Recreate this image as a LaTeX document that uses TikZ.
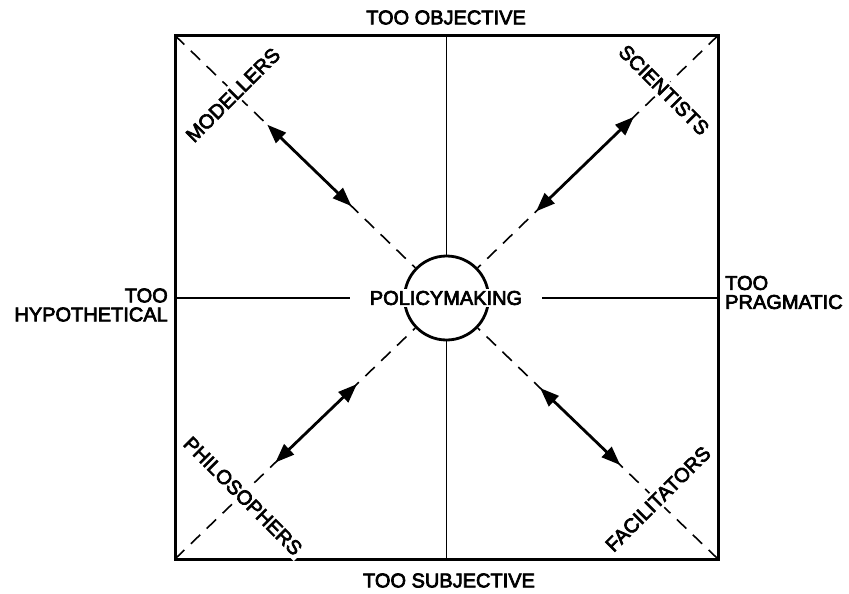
\documentclass[tikz,border=0pt]{standalone}
\usepackage{fontspec}
\setmainfont{Liberation Sans}
\newfontfamily\medfont{Liberation Sans}[FakeBold=3.5]
\usetikzlibrary{arrows.meta,calc}
\begin{document}
\begin{tikzpicture}[x=1pt,y=-1pt,
  lbl/.style={font=\medfont\fontsize{20}{19}\selectfont, inner sep=0pt},
  rolelbl/.style={lbl, fill=white, inner sep=3pt},
  frame/.style={line width=3pt, line join=miter},
  axis/.style={line width=1.4pt},
  diag/.style={line width=1.6pt, dash pattern=on 13pt off 9pt},
  twoway/.style={line width=2.8pt,
    {Triangle[length=19pt,width=14pt]}-{Triangle[length=19pt,width=14pt]}},
  hub/.style={circle, draw, line width=2.8pt, fill=white,
    minimum size=84pt, inner sep=0pt},
  hubtext/.style={lbl, fill=white, inner xsep=20pt, inner ysep=2pt}]
\useasboundingbox (0,0) rectangle (849,594);

% corners and edge midpoints of the square
\coordinate (tl) at (175,35.5);
\coordinate (tr) at (718,35.5);
\coordinate (br) at (718,559);
\coordinate (bl) at (175,559);
\coordinate (tm) at (446.5,35.5);
\coordinate (bm) at (446.5,559);
\coordinate (lm) at (175,298);
\coordinate (rm) at (718,298);
\coordinate (ctr) at (446.5,298);

\draw[frame] (tl) -- (tr) -- (br) -- (bl) -- cycle;

% central circle and its label
\node[hub] (hub) at (ctr) {};
\node[hubtext] (policy) at (446,298) {POLICYMAKING};

% axes
\draw[axis] (tm) -- (hub);
\draw[axis] (hub) -- (bm);
\draw[axis] (lm) -- (policy.west);
\draw[axis] (policy.east) -- (rm);

% dashed diagonals
\draw[diag] (tl) -- (hub);
\draw[diag] (tr) -- (hub);
\draw[diag] (bl) -- (hub);
\draw[diag] (br) -- (hub);

% double-headed arrows on the diagonals
\coordinate (a1) at ($(tl)!0.34!(ctr)$);
\coordinate (a2) at ($(tl)!0.65!(ctr)$);
\coordinate (b1) at ($(tr)!0.31!(ctr)$);
\coordinate (b2) at ($(tr)!0.67!(ctr)$);
\coordinate (c1) at ($(bl)!0.37!(ctr)$);
\coordinate (c2) at ($(bl)!0.67!(ctr)$);
\coordinate (d1) at ($(br)!0.36!(ctr)$);
\coordinate (d2) at ($(br)!0.655!(ctr)$);
\draw[twoway] (a1) -- (a2);
\draw[twoway] (b1) -- (b2);
\draw[twoway] (c1) -- (c2);
\draw[twoway] (d1) -- (d2);

% corner roles
\node[rolelbl, rotate=45] (mod) at (233,95) {MODELLERS};
\node[rolelbl, rotate=-45] (sci) at (664,90) {SCIENTISTS};
\node[rolelbl, rotate=-45] (phil) at (243,496) {PHILOSOPHERS};
\node[rolelbl, rotate=45] (fac) at (658,499) {FACILITATORS};

% edge labels
\node[lbl] (obj) at (446,17.5) {TOO OBJECTIVE};
\node[lbl] (subj) at (449,580.5) {TOO SUBJECTIVE};
\node[lbl, align=right, anchor=east] (hyp) at (168,305) {TOO\\HYPOTHETICAL};
\node[lbl, align=left, anchor=west] (prag) at (725,292.5) {TOO\\PRAGMATIC};
\end{tikzpicture}
\end{document}
